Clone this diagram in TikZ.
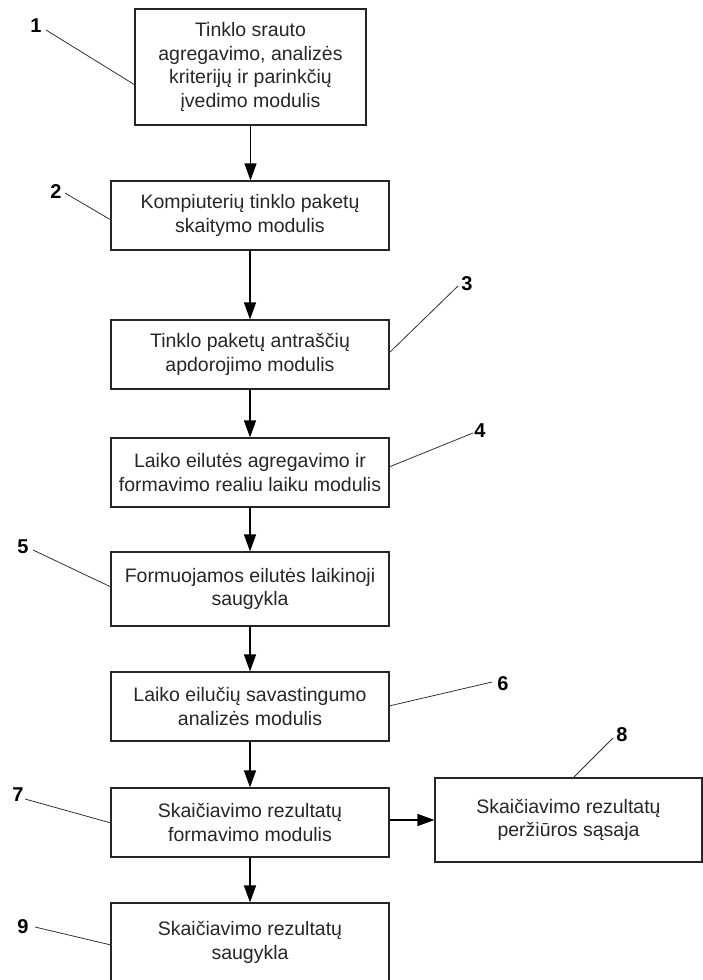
\documentclass[tikz,border=0pt]{standalone}
\usepackage{fontspec}
\setmainfont{Liberation Sans}
\usetikzlibrary{arrows.meta}
\begin{document}
\begin{tikzpicture}[x=1pt,y=-1pt,
  box/.style={draw=black!85, line width=1.2pt, inner sep=0pt, align=center,
    font=\fontsize{19.5}{23.5}\selectfont, text=black!85, minimum width=278pt},
  arr/.style={draw=black, line width=1.4pt, -{Triangle[length=17pt,width=12pt]}},
  num/.style={inner sep=0pt, font=\fontsize{20}{22}\selectfont\bfseries},
  lead/.style={draw=black!80, line width=0.8pt}]
\useasboundingbox (0,0) rectangle (703,980);
\clip (0,0) rectangle (703,980);
\node[box, minimum width=231pt, minimum height=116pt] (b1) at (250.5,67)
  {Tinklo srauto\\agregavimo, analizės\\kriterijų ir parinkčių\\įvedimo modulis};
\node[box, minimum height=69pt] (b2) at (250,215.5) {Kompiuterių tinklo paketų\\skaitymo modulis};
\node[box, minimum height=69pt] (b3) at (250,354.5) {Tinklo paketų antraščių\\apdorojimo modulis};
\node[box, minimum height=69pt] (b4) at (250,472.5) {Laiko eilutės agregavimo ir\\formavimo realiu laiku modulis};
\node[box, minimum height=74pt] (b5) at (250,589) {Formuojamos eilutės laikinoji\\saugykla};
\node[box, minimum height=69pt] (b6) at (250,706.5) {Laiko eilučių savastingumo\\analizės modulis};
\node[box, minimum height=69pt] (b7) at (250,822.5) {Skaičiavimo rezultatų\\formavimo modulis};
\node[box, minimum width=267pt, minimum height=84pt] (b8) at (568.5,820) {Skaičiavimo rezultatų\\peržiūros sąsaja};
\node[box, minimum height=79pt] (b9) at (250,942.5) {Skaičiavimo rezultatų\\saugykla};

\draw[arr] (b1.south) -- (b1.south |- b2.north);
\draw[arr] (b2.south) -- (b3.north);
\draw[arr] (b3.south) -- (b4.north);
\draw[arr] (b4.south) -- (b5.north);
\draw[arr] (b5.south) -- (b6.north);
\draw[arr] (b6.south) -- (b7.north);
\draw[arr] (b7.south) -- (b9.north);
\draw[arr] (b7.east |- 0,820) -- (b8.west |- 0,820);

\node[num] (n1) at (36,26) {1};
\node[num] (n2) at (56,192) {2};
\node[num] (n3) at (467,284) {3};
\node[num] (n4) at (480,431) {4};
\node[num] (n5) at (23,547) {5};
\node[num] (n6) at (503,684) {6};
\node[num] (n7) at (18,795) {7};
\node[num] (n8) at (622,735) {8};
\node[num] (n9) at (23,927) {9};

\coordinate (e1) at (135,85);
\coordinate (e2) at (111,220);
\coordinate (e3) at (389,353);
\coordinate (e4) at (389,467);
\coordinate (e5) at (111,587);
\coordinate (e6) at (389,706);
\coordinate (e7) at (111,823);
\coordinate (e8) at (573,778);
\coordinate (e9) at (111,945);

\draw[lead] (46,30) -- (e1);
\draw[lead] (65,193) -- (e2);
\draw[lead] (458,286) -- (e3);
\draw[lead] (473,433) -- (e4);
\draw[lead] (33,550) -- (e5);
\draw[lead] (492,682) -- (e6);
\draw[lead] (25,799) -- (e7);
\draw[lead] (613,738) -- (e8);
\draw[lead] (35,927) -- (e9);
\end{tikzpicture}
\end{document}
